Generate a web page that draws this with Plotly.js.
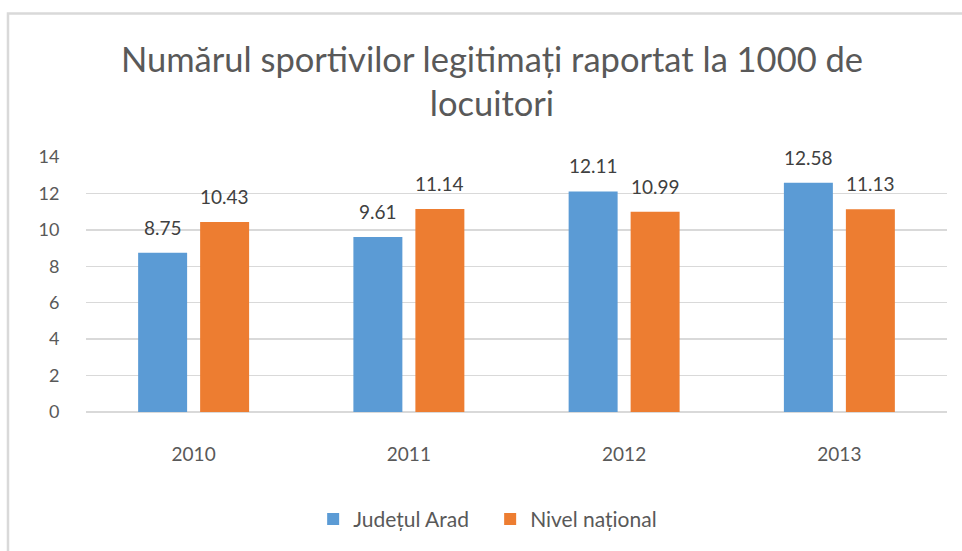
<!DOCTYPE html>
<html><head><meta charset="utf-8">
<script src="https://cdn.plot.ly/plotly-3.0.1.min.js"></script>
<style>html,body{margin:0;padding:0;background:#fff;}#chart{width:962px;height:551px;}</style>
</head><body><div id="chart"></div>
<script>
const years = ['2010', '2011', '2012', '2013'];
const arad = [8.75, 9.61, 12.11, 12.58];
const national = [10.43, 11.14, 10.99, 11.13];
const seriesNames = ['Județul Arad', 'Nivel național'];
const colors = ['#5B9BD5', '#ED7D31'];

const FONT = 'Lato, "Open Sans", sans-serif';
const xIdx = years.map((_, i) => i);
const traces = [arad, national].map((vals, i) => ({
  type: 'bar', x: xIdx, y: vals, name: seriesNames[i],
  marker: {color: colors[i]}, hoverinfo: 'skip'
}));

const annotations = [];
[arad, national].forEach((vals, i) => {
  vals.forEach((v, j) => {
    annotations.push({
      x: xIdx[j], y: v, text: v.toFixed(2), showarrow: false,
      xref: 'x', yref: 'y', xanchor: 'center', yanchor: 'bottom',
      xshift: i === 0 ? -31 : 31, yshift: 12,
      font: {family: FONT, size: 19, color: '#404040'}
    });
  });
});

const layout = {
  width: 962, height: 551,
  margin: {l: 86, r: 15, t: 157, b: 138},
  paper_bgcolor: '#fff', plot_bgcolor: '#fff',
  title: {text: 'Numărul sportivilor legitimați raportat la 1000 de<br>locuitori',
    font: {family: FONT, size: 34.5, color: '#595959'}, xref: 'container', x: 0.5114, xanchor: 'center',
    yref: 'container', y: 0.87, yanchor: 'top'},
  barmode: 'group', bargap: 0.424, bargroupgap: 0.21,
  xaxis: {type: 'linear', range: [-0.5, 3.5], tickvals: xIdx, ticktext: years,
    showgrid: false, zeroline: false, showline: false, ticks: 'outside', ticklen: 25, tickcolor: 'rgba(0,0,0,0)',
    tickfont: {family: FONT, size: 19, color: '#595959'}, fixedrange: true},
  yaxis: {range: [0, 14], dtick: 2, tick0: 0, showgrid: true, gridcolor: '#D9D9D9', gridwidth: 1.5,
    zeroline: true, zerolinecolor: '#D9D9D9', zerolinewidth: 1.5, showline: false,
    ticks: 'outside', ticklen: 22, tickcolor: 'rgba(0,0,0,0)',
    tickfont: {family: FONT, size: 18, color: '#595959'}, fixedrange: true},
  showlegend: true,
  legend: {orientation: 'h', x: 0.4694, xanchor: 'center', y: -0.415, yanchor: 'middle',
    font: {family: FONT, size: 21, color: '#595959'}, traceorder: 'normal', entrywidth: 132},
  annotations: annotations,
  shapes: [{type: 'rect', xref: 'paper', yref: 'paper', x0: -0.0906, x1: 1.2, y0: -0.7, y1: 1.5625,
    line: {color: '#D9D9D9', width: 2.5}, fillcolor: 'rgba(0,0,0,0)', layer: 'below'}]
};
Plotly.newPlot('chart', traces, layout, {displayModeBar: false, staticPlot: true});
</script></body></html>
